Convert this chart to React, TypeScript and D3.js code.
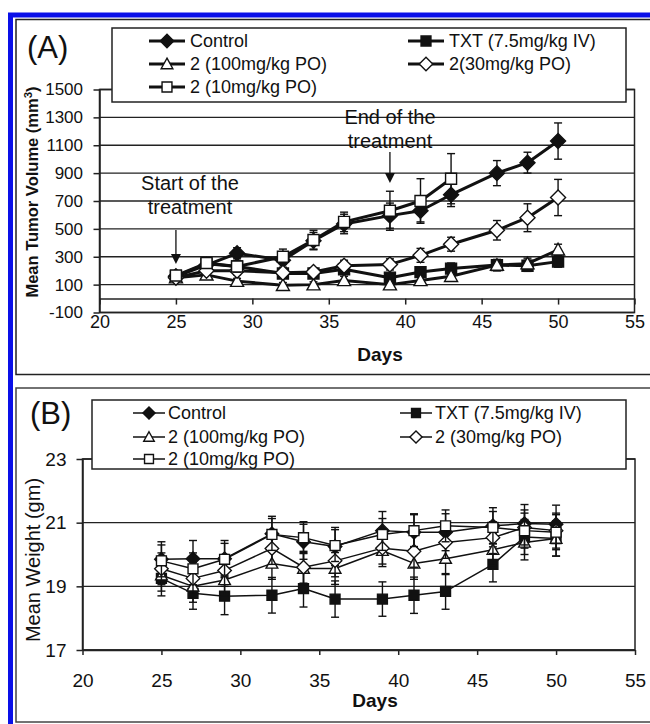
import React, { useEffect, useRef } from 'react';
import * as d3 from 'd3';

const FONT = '"Liberation Sans", Arial, sans-serif';

// shared x values (days after implantation)
const days = [25, 27, 29, 32, 34, 36, 39, 41, 43, 46, 48, 50];
const days10 = [25, 27, 29, 32, 34, 36, 39, 41, 43];
const xTicks = [20, 25, 30, 35, 40, 45, 50, 55];

// (A) mean tumor volume, mm3
const volTicks = [-100, 100, 300, 500, 700, 900, 1100, 1300, 1500];
const volControl = [160, 240, 325, 275, 415, 535, 595, 630, 745, 900, 975, 1130];
const volControlErr = [30, 40, 40, 50, 60, 70, 90, 80, 85, 90, 75, 130];
const volTxt = [160, 250, 230, 180, 180, 210, 150, 190, 215, 240, 235, 265];
const volTxtErr = [20, 30, 30, 30, 30, 30, 30, 30, 40, 40, 40, 40];
const vol100 = [150, 170, 125, 95, 100, 130, 100, 130, 160, 240, 250, 350];
const vol100Err = [20, 20, 20, 20, 20, 30, 30, 30, 30, 40, 40, 40];
const vol30 = [150, 200, 200, 185, 190, 235, 245, 310, 390, 490, 580, 725];
const vol30Err = [20, 30, 30, 30, 30, 40, 40, 50, 50, 70, 100, 130];
const vol10 = [165, 255, 230, 300, 420, 550, 630, 700, 860];
const vol10Err = [20, 30, 40, 55, 70, 70, 140, 160, 180];

// (B) mean body weight, gm
const wtTicks = [17, 19, 21, 23];
const wtControl = [19.85, 19.87, 19.87, 20.65, 20.4, 20.25, 20.75, 20.7, 20.7, 20.9, 20.97, 20.95];
const wtControlErr = [0.55, 0.57, 0.57, 0.55, 0.55, 0.6, 0.6, 0.58, 0.58, 0.57, 0.6, 0.6];
const wtTxt = [19.25, 18.78, 18.69, 18.72, 18.93, 18.6, 18.6, 18.72, 18.84, 19.69, 20.55, 20.5];
const wtTxtErr = [0.55, 0.5, 0.58, 0.56, 0.58, 0.57, 0.54, 0.57, 0.56, 0.55, 0.55, 0.55];
const wt100 = [19.35, 19.0, 19.2, 19.72, 19.56, 19.56, 20.12, 19.72, 19.87, 20.15, 20.38, 20.5];
const wt100Err = [0.5, 0.5, 0.5, 0.5, 0.5, 0.5, 0.5, 0.5, 0.5, 0.5, 0.55, 0.55];
const wt30 = [19.55, 19.25, 19.5, 20.19, 19.6, 19.8, 20.2, 20.1, 20.38, 20.53, 20.85, 20.75];
const wt30Err = [0.5, 0.5, 0.5, 0.5, 0.5, 0.5, 0.5, 0.5, 0.5, 0.5, 0.55, 0.55];
const wt10 = [19.8, 19.55, 19.85, 20.63, 20.53, 20.28, 20.63, 20.75, 20.9, 20.85, 20.75, 20.7];
const wt10Err = [0.5, 0.5, 0.5, 0.5, 0.5, 0.5, 0.5, 0.5, 0.5, 0.5, 0.55, 0.55];

const namesA = ['Control', 'TXT (7.5mg/kg IV)', '2 (100mg/kg PO)', '2(30mg/kg PO)', '2 (10mg/kg PO)'];
const namesB = ['Control', 'TXT (7.5mg/kg IV)', '2 (100mg/kg PO)', '2 (30mg/kg PO)', '2 (10mg/kg PO)'];
const markerShapes = ['diamond', 'square', 'triangle', 'diamond', 'square'];
const markerFilled = [true, true, false, false, false];

const shapes: any = {
  diamond: { draw(ctx, size) { const r = Math.sqrt(size) / 2; ctx.moveTo(0, -r); ctx.lineTo(r, 0); ctx.lineTo(0, r); ctx.lineTo(-r, 0); ctx.closePath(); } },
  square: { draw(ctx, size) { const r = Math.sqrt(size) / 2; ctx.rect(-r, -r, 2 * r, 2 * r); } },
  triangle: { draw(ctx, size) { const r = Math.sqrt(size) / 2; ctx.moveTo(0, -r); ctx.lineTo(r, r * 0.8); ctx.lineTo(-r, r * 0.8); ctx.closePath(); } },
};
const markerR: any = { diamond: 7.5, square: 5.5, triangle: 6.5 };

// plain labels, with a hyphen for negatives like the original
const plain = d => String(d);

function marker(g, shape, filled, cx, cy, scale) {
  const r = markerR[shape] * scale;
  g.append('path')
    .attr('d', d3.symbol().type(shapes[shape]).size((2 * r) * (2 * r))())
    .attr('transform', `translate(${cx},${cy})`)
    .attr('fill', filled ? '#111' : '#fff')
    .attr('stroke', '#111')
    .attr('stroke-width', 1.4);
}

function drawPanel(root, p) {
  const g = root.append('g');
  const x = d3.scaleLinear().domain([20, 55]).range([p.left, p.right]);
  const y = d3.scaleLinear().domain([p.yTicks[0], p.yTicks[p.yTicks.length - 1]]).range([p.bottom, p.top]);

  // gridlines + frame
  g.selectAll('.grid').data(p.yTicks).enter().append('line')
    .attr('x1', p.left).attr('x2', p.right)
    .attr('y1', d => y(d)).attr('y2', d => y(d))
    .attr('stroke', '#222').attr('stroke-width', 1.3);
  g.append('rect')
    .attr('x', p.left).attr('y', p.top).attr('width', p.right - p.left).attr('height', p.bottom - p.top)
    .attr('fill', 'none').attr('stroke', '#222').attr('stroke-width', 1.5);

  // axes
  const xa = g.append('g')
    .attr('transform', `translate(0,${y(p.xCross)})`)
    .call(d3.axisBottom(x).tickValues(xTicks).tickFormat(plain).tickSize(p.tickX).tickSizeOuter(0).tickPadding(p.padX));
  const ya = g.append('g')
    .attr('transform', `translate(${p.left},0)`)
    .call(d3.axisLeft(y).tickValues(p.yTicks).tickFormat(plain).tickSize(6).tickSizeOuter(0).tickPadding(p.padY));
  [xa, ya].forEach(a => {
    a.select('.domain').attr('stroke', '#222').attr('stroke-width', 1.5);
    a.selectAll('.tick line').attr('stroke', '#222').attr('stroke-width', 1.5);
  });
  xa.selectAll('.tick text').attr('font-family', FONT).attr('font-size', p.xFont).attr('fill', '#111');
  ya.selectAll('.tick text').attr('font-family', FONT).attr('font-size', p.yFont).attr('fill', '#111');

  // series
  const line = d3.line().x(d => x(d[0])).y(d => y(d[1]));
  p.series.forEach(s => {
    const pts = s.days.map((d, i) => [d, s.values[i], s.errors[i]]);
    pts.forEach(d => {
      const lo = y(d[1] - d[2]), hi = y(d[1] + d[2]), cx = x(d[0]);
      g.append('line').attr('x1', cx).attr('x2', cx).attr('y1', lo).attr('y2', hi).attr('stroke', '#111').attr('stroke-width', 1.4);
      [lo, hi].forEach(v => g.append('line').attr('x1', cx - 4).attr('x2', cx + 4).attr('y1', v).attr('y2', v).attr('stroke', '#111').attr('stroke-width', 1.4));
    });
    g.append('path').datum(pts).attr('d', line).attr('fill', 'none')
      .attr('stroke', '#111').attr('stroke-width', p.lineW).attr('stroke-linejoin', 'round');
    pts.forEach(d => marker(g, s.shape, s.filled, x(d[0]), y(d[1]), p.markScale));
  });

  // titles
  g.append('text').attr('x', p.daysX).attr('y', p.daysY).attr('text-anchor', 'middle')
    .attr('font-family', FONT).attr('font-weight', 'bold').attr('font-size', 19).attr('fill', '#111').text('Days');
  const yt = g.append('text')
    .attr('transform', `translate(${p.yTitleX},${p.yTitleY}) rotate(-90)`)
    .attr('text-anchor', 'middle').attr('dy', '0.35em')
    .attr('font-family', FONT).attr('font-size', p.yTitleFont).attr('fill', '#111')
    .attr('font-weight', p.yTitleBold ? 'bold' : 'normal');
  yt.append('tspan').text(p.yTitle);
  if (p.yTitleSup) {
    yt.append('tspan').attr('baseline-shift', 'super').attr('font-size', p.yTitleFont * 0.7).text(p.yTitleSup);
    yt.append('tspan').text(')');
  }
  g.append('text').attr('x', p.tagX).attr('y', p.tagY)
    .attr('font-family', FONT).attr('font-size', 31).attr('fill', '#111').text(p.tag);

  // legend
  const L = p.legend;
  g.append('rect').attr('x', L.x).attr('y', L.y).attr('width', L.w).attr('height', L.h)
    .attr('fill', '#fff').attr('stroke', '#222').attr('stroke-width', 1.5);
  p.series.forEach((s, i) => {
    const lx = L.cols[i % 2], ly = L.rows[Math.floor(i / 2)];
    g.append('line').attr('x1', lx).attr('x2', lx + L.len).attr('y1', ly).attr('y2', ly)
      .attr('stroke', '#111').attr('stroke-width', p.lineW);
    marker(g, s.shape, s.filled, lx + L.len / 2, ly, p.markScale * 0.9);
    g.append('text').attr('x', lx + L.len + L.gap).attr('y', ly).attr('dy', '0.35em')
      .attr('font-family', FONT).attr('font-size', 18).attr('fill', '#111').text(s.name);
  });

  return { x, y, g };
}

function makeSeries(names, sets) {
  return sets.map((s, i) => ({
    name: names[i], days: s[0], values: s[1], errors: s[2],
    shape: markerShapes[i], filled: markerFilled[i],
  }));
}

const App = () => {
  const svgRef = useRef(null);

  useEffect(() => {
    const svg = d3.select(svgRef.current);
    svg.selectAll('*').remove();

    // frames
    svg.append('rect').attr('x', 10.5).attr('y', 15).attr('width', 700).attr('height', 800)
      .attr('fill', 'none').attr('stroke', '#0a10e8').attr('stroke-width', 5);
    svg.append('rect').attr('x', 16).attr('y', 19.5).attr('width', 700).attr('height', 355)
      .attr('fill', '#fff').attr('stroke', '#222').attr('stroke-width', 1.5);
    svg.append('rect').attr('x', 16).attr('y', 388).attr('width', 700).attr('height', 334)
      .attr('fill', '#fff').attr('stroke', '#444').attr('stroke-width', 1.5);

    const a = drawPanel(svg, {
      left: 99.5, right: 634.5, top: 89.5, bottom: 312.5,
      yTicks: volTicks, xCross: 0, tickX: 6, padX: 10.5, padY: 10.5,
      xFont: 18, yFont: 17, lineW: 3, markScale: 1,
      series: makeSeries(namesA, [
        [days, volControl, volControlErr], [days, volTxt, volTxtErr], [days, vol100, vol100Err],
        [days, vol30, vol30Err], [days10, vol10, vol10Err],
      ]),
      daysX: 380, daysY: 361,
      yTitle: 'Mean Tumor Volume (mm', yTitleSup: '3', yTitleX: 32, yTitleY: 192, yTitleFont: 16.5, yTitleBold: true,
      tag: '(A)', tagX: 27, tagY: 58,
      legend: { x: 112, y: 28, w: 514, h: 74, cols: [149, 408], rows: [41, 64, 87], len: 36, gap: 5 },
    });

    // treatment annotations
    const notes = [
      { day: 25, lines: ['Start of the', 'treatment'], cx: 190, y0: 190, a0: 230, a1: 264 },
      { day: 39, lines: ['End of the', 'treatment'], cx: 390, y0: 124, a0: 152, a1: 183 },
    ];
    notes.forEach(n => {
      n.lines.forEach((t, i) => a.g.append('text').attr('x', n.cx).attr('y', n.y0 + i * 24)
        .attr('text-anchor', 'middle').attr('font-family', FONT).attr('font-size', 20).attr('fill', '#111').text(t));
      const ax = a.x(n.day);
      a.g.append('line').attr('x1', ax).attr('x2', ax).attr('y1', n.a0).attr('y2', n.a1 - 8)
        .attr('stroke', '#111').attr('stroke-width', 1.3);
      a.g.append('path').attr('d', `M${ax - 5},${n.a1 - 10}L${ax + 5},${n.a1 - 10}L${ax},${n.a1}Z`).attr('fill', '#111');
    });

    drawPanel(svg, {
      left: 82.5, right: 635, top: 459, bottom: 650,
      yTicks: wtTicks, xCross: 17, tickX: 5, padX: 18.5, padY: 10,
      xFont: 19, yFont: 19, lineW: 1.5, markScale: 0.9,
      series: makeSeries(namesB, [
        [days, wtControl, wtControlErr], [days, wtTxt, wtTxtErr], [days, wt100, wt100Err],
        [days, wt30, wt30Err], [days, wt10, wt10Err],
      ]),
      daysX: 375, daysY: 707,
      yTitle: 'Mean Weight (gm)', yTitleX: 33, yTitleY: 560, yTitleFont: 20, yTitleBold: false,
      tag: '(B)', tagX: 30, tagY: 424,
      legend: { x: 92, y: 400, w: 534, h: 69, cols: [133, 400], rows: [413, 437, 459], len: 32, gap: 3 },
    });
  }, []);

  return (
    <svg ref={svgRef} width={650} height={724}
      style={{ position: 'absolute', left: 0, top: 0, background: '#fff' }} />
  );
};

export default App;
